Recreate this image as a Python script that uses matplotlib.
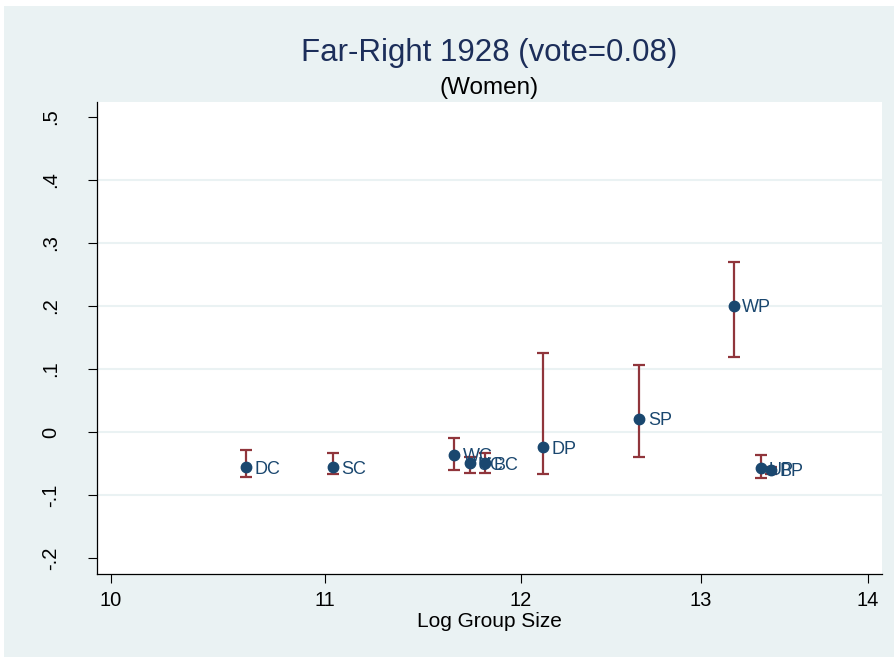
import matplotlib
matplotlib.use("Agg")
import matplotlib.pyplot as plt
from matplotlib.ticker import FixedLocator, FixedFormatter, NullLocator
from matplotlib.patches import Rectangle

plt.rcParams['font.family'] = ['Liberation Sans', 'DejaVu Sans']

# group estimates: coefficient and 95% interval by log group size
groups = ['DC', 'SC', 'WC', 'UC', 'BC', 'DP', 'SP', 'WP', 'UP', 'BP']
log_size = [10.62, 11.04, 11.65, 11.73, 11.81, 12.12, 12.65, 13.19, 13.35, 13.41]
coef = [-0.056, -0.056, -0.036, -0.049, -0.049, -0.024, 0.021, 0.200, -0.057, -0.060]
ci_low = [-0.071, -0.067, -0.060, -0.065, -0.065, -0.067, -0.040, 0.119, -0.073, -0.066]
ci_high = [-0.029, -0.033, -0.010, -0.040, -0.033, 0.125, 0.106, 0.269, -0.036, -0.055]

x_ticks = [10, 11, 12, 13, 14]
y_ticks = [-0.2, -0.1, 0, 0.1, 0.2, 0.3, 0.4, 0.5]
y_labels = ['-.2', '-.1', '0', '.1', '.2', '.3', '.4', '.5']

bg = '#EAF2F3'
navy = '#1A476F'
maroon = '#90353B'

fig = plt.figure(figsize=(8.94, 6.57), dpi=100, facecolor=bg)
# thin white frame on the outer edge
fig.patches.append(Rectangle((0, 0.991), 1, 0.009, transform=fig.transFigure,
                             facecolor='white', edgecolor='none', zorder=0))
fig.patches.append(Rectangle((0, 0), 0.005, 1, transform=fig.transFigure,
                             facecolor='white', edgecolor='none', zorder=0))

ax = fig.add_axes([0.1085, 0.1263, 0.8781, 0.7184])
ax.set_facecolor('white')

lo = [c - l for c, l in zip(coef, ci_low)]
hi = [h - c for c, h in zip(coef, ci_high)]
ax.errorbar(log_size, coef, yerr=[lo, hi], fmt='none', ecolor=maroon,
            elinewidth=1.6, capsize=4.2, capthick=1.6, zorder=3)
ax.plot(log_size, coef, 'o', color=navy, markersize=7.5, zorder=4)
for g, x, y in zip(groups, log_size, coef):
    ax.annotate(g, (x, y), xytext=(6, -1.5), textcoords='offset points',
                ha='left', va='center', fontsize=13, color=navy, zorder=5)

ax.set_xscale('log')
ax.set_xlim(9.94, 14.09)
ax.set_ylim(-0.225, 0.523)
ax.xaxis.set_major_locator(FixedLocator(x_ticks))
ax.xaxis.set_major_formatter(FixedFormatter([str(t) for t in x_ticks]))
ax.xaxis.set_minor_locator(NullLocator())
ax.set_yticks(y_ticks)
ax.set_yticklabels(y_labels, rotation=90, va='center')

# horizontal grid, skipping the outermost ticks
for t in y_ticks[1:-1]:
    ax.axhline(t, color=bg, linewidth=1.5, zorder=1)

for s in ['top', 'right']:
    ax.spines[s].set_visible(False)
for s in ['left', 'bottom']:
    ax.spines[s].set_linewidth(0.9)
    ax.spines[s].set_color('black')
ax.tick_params(axis='both', direction='out', length=6.5, width=0.8,
               labelsize=14.5, colors='black')
ax.tick_params(axis='y', pad=20)
ax.tick_params(axis='x', pad=6)

ax.set_xlabel('Log Group Size', fontsize=15, labelpad=1)
fig.text(0.5475, 0.92, 'Far-Right 1928 (vote=0.08)', ha='center', va='center',
         fontsize=22.5, color='#1C2E5A')
fig.text(0.5475, 0.866, '(Women)', ha='center', va='center', fontsize=17.5,
         color='black')

fig.savefig('out.png', dpi=100, facecolor=bg)
